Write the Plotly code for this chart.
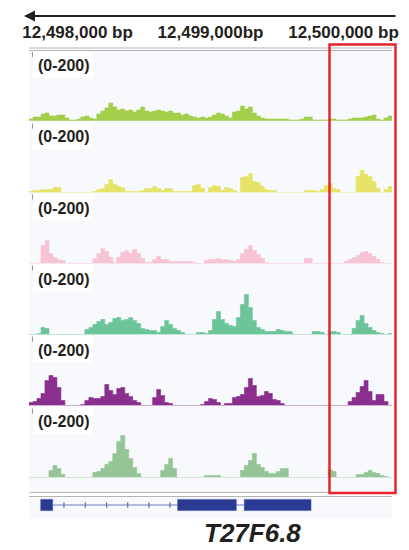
import plotly.graph_objects as go

W, H = 409, 550

# ---------------- data ----------------
region_start = 12497635
bin_size = 30
tick_positions = [12498000, 12499000, 12500000]
tick_labels = ["12,498,000 bp", "12,499,000bp", "12,500,000 bp"]
scale_label = "(0-200)"
gene_name = "T27F6.8"

track1 = [6,12,12,21,24,15,15,18,18,9,
          3,3,6,12,15,9,6,21,30,39,
          54,42,33,36,30,33,27,33,42,30,
          27,30,33,30,27,30,24,24,18,21,
          15,12,9,12,9,12,18,24,21,15,
          9,27,30,45,36,42,24,15,9,6,
          6,6,6,6,6,3,3,3,6,12,
          12,3,3,3,3,6,6,3,3,3,
          6,9,9,9,12,15,18,6,3,9,
          15]
track2 = [3,6,6,9,9,9,15,15,0,0,
          0,0,0,0,0,0,3,9,12,24,
          39,24,18,15,3,3,3,3,6,12,
          12,18,12,6,12,12,3,3,3,3,
          3,21,24,12,0,15,21,18,6,15,
          12,6,0,45,48,57,33,30,18,9,
          6,6,0,0,0,0,0,0,0,6,
          6,6,3,9,21,27,12,9,0,0,
          0,0,48,66,54,48,33,12,0,9,
          18]
track3 = [0,0,0,54,69,30,18,12,9,0,
          0,0,0,0,0,0,15,30,45,36,
          18,3,18,33,39,30,42,30,15,3,
          3,12,21,12,12,6,6,6,6,6,
          6,3,0,0,9,12,12,15,12,12,
          9,6,12,30,42,54,39,27,15,3,
          0,0,0,0,0,0,0,0,0,15,
          15,0,0,0,0,0,0,0,0,6,
          12,18,24,33,36,30,21,12,3,0,
          0]
track4 = [0,0,3,21,18,0,0,0,0,0,
          0,0,0,0,15,21,30,39,45,30,
          36,48,51,42,45,51,42,33,18,15,
          12,12,6,24,42,30,18,12,6,0,
          0,0,6,6,3,12,45,69,45,33,
          27,24,51,90,120,81,42,21,15,9,
          9,9,15,12,9,9,0,0,0,0,
          0,9,9,6,0,9,9,6,0,0,
          0,18,42,57,33,21,12,6,3,0,
          3]
track5 = [9,12,21,36,75,90,84,54,15,0,
          0,0,0,3,15,24,21,21,27,63,
          45,33,51,54,36,27,15,9,0,0,
          0,24,48,30,9,6,0,0,0,0,
          0,0,0,3,12,21,18,9,0,6,
          6,24,27,33,54,81,60,27,30,42,
          36,18,15,6,0,0,0,0,0,0,
          0,0,0,0,0,0,0,0,0,0,
          12,24,39,57,75,42,15,33,33,12,
          0]
track6 = [0,0,0,0,0,21,36,27,9,0,
          0,0,0,0,0,0,15,18,27,39,
          48,72,108,126,84,57,30,12,0,0,
          0,0,0,21,39,57,27,0,0,0,
          0,0,0,0,6,6,6,6,0,0,
          0,0,0,21,36,51,72,39,30,18,
          12,12,18,27,27,0,0,0,0,0,
          0,0,0,0,0,24,18,0,0,0,
          0,0,9,9,15,21,15,12,6,3,
          0]
tracks = [track1, track2, track3, track4, track5, track6]
track_colors = ["#a3cf4a", "#e5e468", "#f6c4d4", "#6cc49a", "#8a2f8e", "#95c596"]
baseline_colors = ["#cfe6a2", "#efefb4", "#f9dbe5", "#b4e2cb", "#c79ac9", "#cbe3cb"]

exon_starts = [12497723, 12498753, 12499254]
exon_ends = [12497813, 12499194, 12499756]
intron_marks = [12497898, 12498058, 12498219, 12498377, 12498537, 12498695]
exon_marks = [12498914, 12499071, 12499415, 12499573, 12499728]

# ---------------- layout helpers ----------------
def px(x):
    return x / W

def py(y):
    return 1 - y / H

FONT = "Liberation Sans, Arial, sans-serif"
x_left, x_right = 29, 392
baselines = [121, 192.5, 263.5, 334.5, 405.5, 477.5]
track_h = 66.7

n = len(track1)
region_end = region_start + bin_size * n
xs = [region_start + bin_size * i for i in range(n)] + [region_end]

fig = go.Figure()
shapes = []
annotations = []

# panel backgrounds
shapes.append(dict(type="rect", xref="paper", yref="paper", x0=px(x_left), x1=px(x_right),
                   y0=py(492), y1=py(50), fillcolor="#f8f9fc", line_width=0, layer="below"))
shapes.append(dict(type="rect", xref="paper", yref="paper", x0=px(x_left), x1=px(x_right),
                   y0=py(519), y1=py(497), fillcolor="#f8f9fc", line_width=0, layer="below"))
for yy in [48, 50.5, 492.5, 496.5]:
    shapes.append(dict(type="line", xref="paper", yref="paper", x0=px(x_left), x1=px(x_right),
                       y0=py(yy), y1=py(yy), line=dict(color="#b4b4b4", width=1)))

layout_axes = {}
for k, (vals, col, bcol, yb) in enumerate(zip(tracks, track_colors, baseline_colors, baselines), start=1):
    yname = "y" if k == 1 else f"y{k}"
    lname = "yaxis" if k == 1 else f"yaxis{k}"
    layout_axes[lname] = dict(domain=[py(yb), py(yb - track_h)], range=[0, 200], visible=False,
                              fixedrange=True, automargin=False)
    fig.add_trace(go.Scatter(x=xs, y=list(vals) + [vals[-1]], xaxis="x", yaxis=yname,
                             mode="lines", line=dict(shape="hv", width=0.6, color=col),
                             fill="tozeroy", fillcolor=col, hoverinfo="skip", showlegend=False))
    shapes.append(dict(type="line", xref="x", yref=yname, x0=region_start, x1=region_end,
                       y0=0, y1=0, line=dict(color=bcol, width=1.2)))
    # label box
    shapes.append(dict(type="rect", xref="paper", yref="paper", x0=px(33), x1=px(93),
                       y0=py(yb - 43), y1=py(yb - 70), fillcolor="white", line_width=0, layer="below"))
    shapes.append(dict(type="line", xref="paper", yref="paper", x0=px(32.5), x1=px(32.5),
                       y0=py(yb - 64), y1=py(yb - 69), line=dict(color="#999999", width=1)))
    annotations.append(dict(text="<b>" + scale_label + "</b>", xref="paper", yref="paper",
                            x=px(36), y=py(yb - 55.5), xanchor="left", yanchor="middle",
                            showarrow=False, font=dict(family=FONT, size=16, color="#231f20")))

# gene model axis
layout_axes["yaxis7"] = dict(domain=[py(513), py(497)], range=[-1, 1], visible=False,
                             fixedrange=True, automargin=False)
shapes.append(dict(type="line", xref="x", yref="y7", x0=exon_ends[0], x1=exon_starts[2],
                   y0=0, y1=0, line=dict(color="#6f7cc0", width=1)))
for s, e in zip(exon_starts, exon_ends):
    shapes.append(dict(type="rect", xref="x", yref="y7", x0=s, x1=e, y0=-0.7, y1=0.7,
                       fillcolor="#2b3a93", line=dict(color="#3c4aa0", width=0.5)))
fig.add_trace(go.Scatter(x=intron_marks, y=[0] * len(intron_marks), xaxis="x", yaxis="y7",
                         mode="markers", marker=dict(symbol="line-ns", size=4,
                                                     line=dict(color="#5a68b4", width=1.2)),
                         hoverinfo="skip", showlegend=False))
fig.add_trace(go.Scatter(x=exon_marks, y=[0] * len(exon_marks), xaxis="x", yaxis="y7",
                         mode="markers", marker=dict(symbol="triangle-left-open", size=4,
                                                     color="#8c98d8", line=dict(color="#8c98d8", width=1)),
                         hoverinfo="skip", showlegend=False))

# red highlight box
shapes.append(dict(type="rect", xref="paper", yref="paper", x0=px(329.5), x1=px(395.5),
                   y0=py(493), y1=py(44.5), line=dict(color="#e8232b", width=2.5),
                   fillcolor="rgba(0,0,0,0)", layer="above"))

# direction arrow (head at left)
annotations.append(dict(text="", xref="paper", yref="paper", x=px(24), y=py(16),
                        ax=397 - 24, ay=0, axref="pixel", ayref="pixel", showarrow=True,
                        arrowhead=2, arrowsize=1.1, arrowwidth=2, arrowcolor="#231f20"))

# gene name
annotations.append(dict(text="<b><i>" + gene_name + "</i></b>", xref="paper", yref="paper",
                        x=px(252.5), y=py(533), xanchor="center", yanchor="middle", showarrow=False,
                        font=dict(family=FONT, size=26, color="#231f20")))

fig.update_layout(
    width=W, height=H,
    margin=dict(l=0, r=0, t=0, b=0, autoexpand=False),
    paper_bgcolor="white", plot_bgcolor="rgba(0,0,0,0)",
    showlegend=False,
    xaxis=dict(domain=[px(x_left), px(x_right)], range=[region_start, region_end],
               anchor="free", position=py(41), side="top", automargin=False,
               tickvals=tick_positions, ticktext=["<b>" + t + "</b>" for t in tick_labels],
               tickfont=dict(family=FONT, size=17, color="#231f20"),
               ticks="", showline=False, showgrid=False, zeroline=False, fixedrange=True),
    shapes=shapes,
    annotations=annotations,
    **layout_axes,
)

fig.write_html("out.html", config={"displayModeBar": False},
               post_script="document.body.style.margin='0';document.body.style.overflow='hidden';")
